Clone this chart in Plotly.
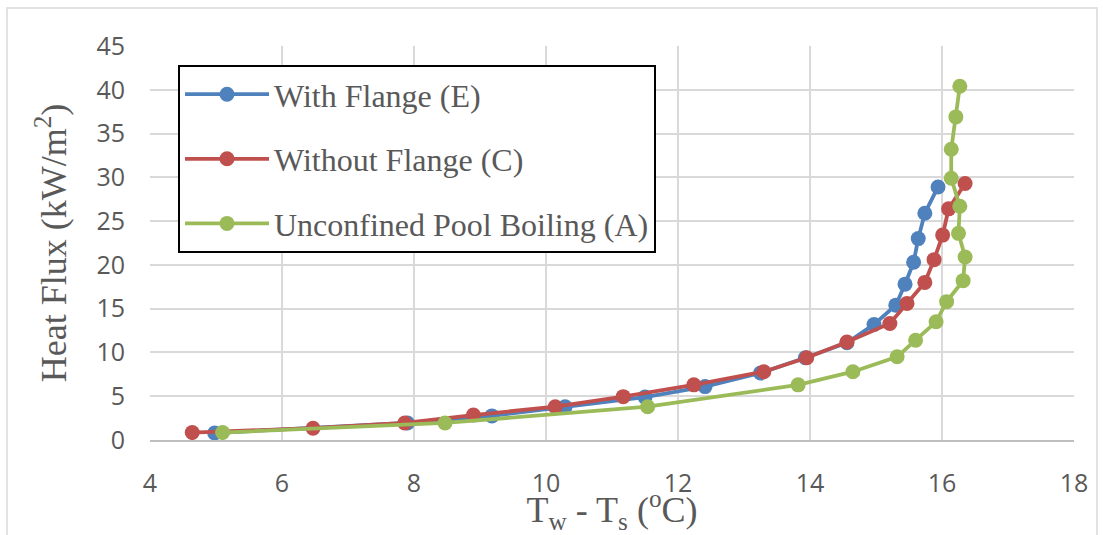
import plotly.graph_objects as go

# Superheat (Tw - Ts, °C) and heat flux (kW/m^2) for each configuration
with_flange_dt = [4.98, 7.9, 9.18, 10.29, 11.5, 12.41, 13.25, 13.93, 14.56, 14.97, 15.3, 15.44, 15.57, 15.64, 15.74, 15.94]
with_flange_q = [0.8, 1.95, 2.75, 3.8, 4.9, 6.1, 7.65, 9.4, 11.1, 13.2, 15.4, 17.8, 20.3, 23.0, 25.9, 28.9]

without_flange_dt = [4.64, 6.47, 7.86, 8.9, 10.14, 11.17, 12.24, 13.3, 13.95, 14.56, 15.21, 15.47, 15.74, 15.88, 16.01, 16.1, 16.35]
without_flange_q = [0.85, 1.35, 1.95, 2.85, 3.8, 4.95, 6.3, 7.8, 9.4, 11.2, 13.3, 15.6, 18.0, 20.6, 23.4, 26.4, 29.3]

unconfined_dt = [5.1, 8.47, 11.54, 13.82, 14.65, 15.32, 15.6, 15.91, 16.07, 16.32, 16.35, 16.25, 16.27, 16.14, 16.14, 16.21, 16.27]
unconfined_q = [0.85, 1.95, 3.8, 6.3, 7.8, 9.5, 11.4, 13.5, 15.8, 18.2, 20.9, 23.6, 26.7, 29.9, 33.2, 36.9, 40.4]

series = [
    ("With Flange (E)", with_flange_dt, with_flange_q, "#4F81BD"),
    ("Without Flange (C)", without_flange_dt, without_flange_q, "#C0504D"),
    ("Unconfined Pool Boiling (A)", unconfined_dt, unconfined_q, "#9BBB59"),
]

fig = go.Figure()
for i, (name, xs, ys, color) in enumerate(series):
    fig.add_trace(go.Scatter(
        x=xs, y=ys, name=name, mode="lines+markers",
        line=dict(color=color, width=3.8),
        marker=dict(color=color, size=15),
        legendgroup=f"g{i}",
    ))

grid = "#d9d9d9"
tick_font = dict(family="Open Sans, Liberation Sans, sans-serif", size=25, color="#595959")
title_font = dict(family="Liberation Serif, Times New Roman, serif", size=36, color="#595959")

fig.update_layout(
    width=1103, height=535,
    margin=dict(l=150, r=29, t=46, b=95),
    paper_bgcolor="white", plot_bgcolor="white",
    showlegend=True,
    legend=dict(
        x=0.0303, y=0.952, xanchor="left", yanchor="top",
        bordercolor="black", borderwidth=2, bgcolor="white",
        font=dict(family="Liberation Serif, Times New Roman, serif", size=32, color="#595959"),
        tracegroupgap=20, itemwidth=84,
    ),
    xaxis=dict(
        range=[4, 18], dtick=2, tick0=4, automargin=False,
        showgrid=True, gridcolor=grid, gridwidth=2,
        showline=True, linecolor="#bfbfbf", linewidth=2,
        zeroline=False, ticks="", tickfont=tick_font,
        ticklabelstandoff=20,
        title=dict(text="T<sub>w</sub> - T<sub>s</sub> (<sup>o</sup>C)", font=title_font, standoff=12),
    ),
    yaxis=dict(
        range=[0, 45], dtick=5, automargin=False,
        showgrid=True, gridcolor=grid, gridwidth=2,
        showline=False, zeroline=False, ticks="", tickfont=tick_font,
        ticklabelstandoff=24,
        title=dict(text="Heat Flux (kW/m<sup>2</sup>)", font=title_font, standoff=18),
    ),
    shapes=[dict(
        type="rect", xref="paper", yref="paper",
        x0=-0.1548, x1=1.0249, y0=-0.35, y1=1.0964,
        line=dict(color=grid, width=1.5), layer="below",
    )],
)

fig.write_html("out.html")
